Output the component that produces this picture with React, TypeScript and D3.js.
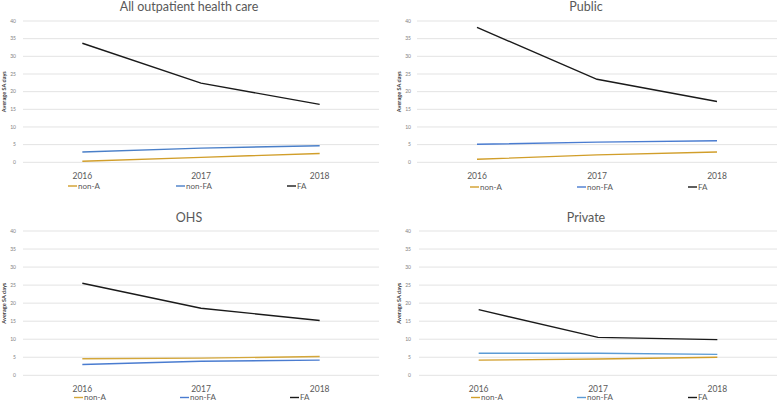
import React from 'react';
import * as d3 from 'd3';

const years = ['2016', '2017', '2018'];
const seriesNames = ['non-A', 'non-FA', 'FA'];
const yTicks = [0, 5, 10, 15, 20, 25, 30, 35, 40];

const allNonA = [0.3, 1.4, 2.5];
const allNonFA = [2.9, 4.0, 4.7];
const allFA = [33.7, 22.4, 16.4];

const publicNonA = [0.85, 2.1, 2.9];
const publicNonFA = [5.1, 5.7, 6.1];
const publicFA = [38.2, 23.5, 17.2];

const ohsNonA = [4.6, 4.75, 5.2];
const ohsNonFA = [3.0, 3.9, 4.2];
const ohsFA = [25.5, 18.6, 15.2];

const privateNonA = [4.2, 4.5, 5.0];
const privateNonFA = [6.1, 6.1, 5.8];
const privateFA = [18.2, 10.5, 9.9];

const font = 'Lato, "Open Sans", sans-serif';

// panel layout, in page pixels
const panels = [
    { title: 'All outpatient health care', series: [allNonA, allNonFA, allFA], colors: ['#d19e2a', '#4a7fc8', '#1a1a1a'],
      left: 23, right: 379, top: 21, bottom: 162.3, tickX: 16, axisX: 6, titleX: 189, titleY: 11, yearY: 178.5, legendY: 186, legendX: [68, 176, 287] },
    { title: 'Public', series: [publicNonA, publicNonFA, publicFA], colors: ['#d19e2a', '#4a7cd0', '#1a1a1a'],
      left: 417, right: 777, top: 21, bottom: 162.3, tickX: 411, axisX: 401, titleX: 586, titleY: 11, yearY: 178.5, legendY: 187, legendX: [470, 577, 688] },
    { title: 'OHS', series: [ohsNonA, ohsNonFA, ohsFA], colors: ['#d4a73a', '#4a7cd0', '#1a1a1a'],
      left: 23, right: 379, top: 231, bottom: 375.3, tickX: 16, axisX: 6, titleX: 189, titleY: 221.5, yearY: 391.5, legendY: 397.5, legendX: [74, 180, 290] },
    { title: 'Private', series: [privateNonA, privateNonFA, privateFA], colors: ['#d19e2a', '#5b9bd5', '#1a1a1a'],
      left: 419, right: 777, top: 231, bottom: 375.3, tickX: 411, axisX: 401, titleX: 586, titleY: 221.5, yearY: 391.5, legendY: 397.5, legendX: [471, 577, 688] },
];

function Panel({ p }) {
    const x = d3.scaleBand().domain(years).range([p.left, p.right]).padding(0);
    const y = d3.scaleLinear().domain([0, 40]).range([p.bottom, p.top]);
    const cx = d => x(d) + x.bandwidth() / 2;
    const line = d3.line().x((d, i) => cx(years[i])).y(d => y(d));
    const midY = (p.top + p.bottom) / 2;

    return (
        <g>
            <text x={p.titleX} y={p.titleY} textAnchor="middle" fontSize={12.5} fill="#595959" fontFamily={font}>{p.title}</text>
            {yTicks.map(t => (
                <g key={t}>
                    <line x1={p.left} x2={p.right} y1={y(t)} y2={y(t)} stroke="#e3e3e3" strokeWidth={1} />
                    <text x={p.tickX} y={y(t) + 1.8} textAnchor="end" fontSize={5} fill="#7f7f7f" fontFamily={font}>{t}</text>
                </g>
            ))}
            <text transform={`translate(${p.axisX},${midY}) rotate(-90)`} textAnchor="middle" fontSize={5.6} fill="#404040" fontWeight="bold" fontFamily={font}>Average SA days</text>
            {years.map(yr => (
                <text key={yr} x={cx(yr)} y={p.yearY} textAnchor="middle" fontSize={8.5} fill="#595959" fontFamily={font}>{yr}</text>
            ))}
            {p.series.map((s, i) => (
                <path key={i} d={line(s)} fill="none" stroke={p.colors[i]} strokeWidth={1.4} />
            ))}
            {seriesNames.map((n, i) => (
                <g key={n}>
                    <line x1={p.legendX[i]} x2={p.legendX[i] + 9} y1={p.legendY} y2={p.legendY} stroke={p.colors[i]} strokeWidth={1.4} />
                    <text x={p.legendX[i] + 10} y={p.legendY + 2.8} fontSize={8} fill="#595959" fontFamily={font}>{n}</text>
                </g>
            ))}
        </g>
    );
}

export default function App() {
    return (
        <svg width={778} height={403} style={{ position: 'absolute', left: 0, top: 0, background: '#fff' }}>
            <rect width={778} height={403} fill="#fff" />
            {panels.map(p => <Panel key={p.title} p={p} />)}
        </svg>
    );
}
